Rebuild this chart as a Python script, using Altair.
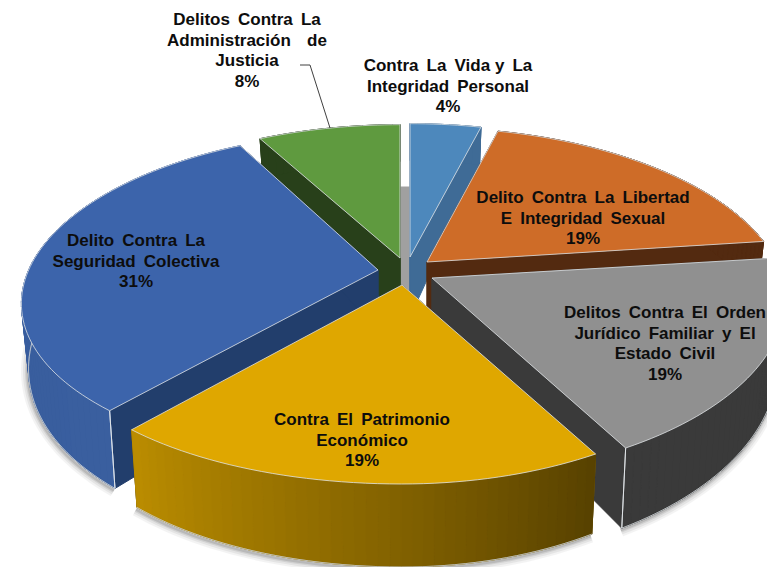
import math
import altair as alt

# ---- chart values (clockwise from 12 o'clock) ----
G = " \u2009"  # wider word gap of the original labels
names = [
    f"Contra{G}La{G}Vida y{G}La\nIntegridad{G}Personal",
    f"Delito{G}Contra{G}La{G}Libertad\nE{G}Integridad{G}Sexual",
    f"Delitos{G}Contra{G}El{G}Orden\nJurídico{G}Familiar{G}y{G}El\nEstado{G}Civil",
    f"Contra{G}El{G}Patrimonio\nEconómico",
    f"Delito{G}Contra{G}La\nSeguridad{G}Colectiva",
    f"Delitos{G}Contra{G}La\nAdministración{G}{G}de\nJusticia",
]
shares = [4, 19, 19, 19, 31, 8]
top_colors = ["#4d88bc", "#ce6c28", "#909090", "#dfa700", "#3c64ab", "#5f9a3f"]
radial_colors = ["#3f6b96", "#532a10", "#3a3a3a", "#3a3a3a", "#223e6c", "#28401a"]
rim_start_colors = ["#3f6b96", "#532a10", "#3a3a3a", "#574100", "#3a5f9f", "#28401a"]
rim_end_colors = ["#3f6b96", "#532a10", "#3a3a3a", "#bb8d00", "#355a9b", "#28401a"]

# ---- layout of the tilted, exploded pie, in picture pixels ----
apexes = [(410, 257), (427, 262), (432, 278), (402, 285), (378, 270), (400, 258)]
rim_shift = [(0, 0), (0, -1), (0, 0), (0, -1), (2, -5), (0, 0)]
label_xy = [(448, 66), (583, 198), (665, 313), (362, 420), (136, 241), (247, 20)]
draw_order = [0, 5, 1, 4, 2, 3]
SX, SY, KX, KY, SKEW = 349, 160, 0.23, 0.20, -32
back_band = [(400, 187), (410, 187), (410, 290), (400, 290)]
leader = [(300, 65), (310, 65), (330, 128)]
EDGE = "#dfe3e6"


def wall(y):
    return 60 + 23 * y


def top_pt(i, r, deg):
    apex = apexes[i]
    t = math.radians(deg)
    x, y = r * math.sin(t), -r * math.cos(t)
    wx = 1 - KX * y
    wy = 1 - KY * y
    return (apex[0] + r * rim_shift[i][0] + (SX * x + SKEW * max(y, 0) * max(x, 0)) / wx,
            apex[1] + r * rim_shift[i][1] + SY * y / wy)


def low_pt(i, r, deg):
    apex = apexes[i]
    px, py = top_pt(i, r, deg)
    y = -r * math.cos(math.radians(deg))
    return (apex[0] + (px - apex[0]) * 0.98, py + wall(y))


def mix(a, b, t):
    ca = [int(a[i:i + 2], 16) for i in (1, 3, 5)]
    cb = [int(b[i:i + 2], 16) for i in (1, 3, 5)]
    return "#%02x%02x%02x" % tuple(round(u + (v - u) * t) for u, v in zip(ca, cb))


def poly(points, fill, stroke=None, sw=1.0):
    ring = [list(p) for p in points] + [list(points[0])]
    return {
        "type": "Feature",
        "geometry": {"type": "Polygon", "coordinates": [ring]},
        "properties": {"fill": fill, "stroke": stroke or fill, "sw": sw},
    }


def line(points, stroke, sw, op=1.0):
    return {
        "type": "Feature",
        "geometry": {"type": "LineString", "coordinates": [list(p) for p in points]},
        "properties": {"stroke": stroke, "sw": sw, "op": op},
    }


starts, acc = [], 0
for s in shares:
    starts.append(acc * 3.6)
    acc += s

pieces = [poly(back_band, "#a0a0a0")]
shadows = []
for i in draw_order:
    a0, a1 = starts[i], starts[i] + shares[i] * 3.6
    n = max(6, int(shares[i] * 2.4))
    degs = [a0 + (a1 - a0) * j / n for j in range(n + 1)]
    top_rim = [top_pt(i, 1, d) for d in degs]
    low_rim = [low_pt(i, 1, d) for d in degs]
    low_apex = low_pt(i, 0, 0)
    if 2 <= i <= 4:
        for w_, o_ in ((13, 0.05), (9, 0.07), (5, 0.10), (2.5, 0.14)):
            shadows.append(line([(x - 1, y + 2) for x, y in low_rim], "#303030", w_, o_))
    for d in (a0, a1):
        pieces.append(poly([top_pt(i, 0, 0), top_pt(i, 1, d), low_pt(i, 1, d), low_apex],
                           radial_colors[i]))
    pieces.append(poly(top_rim + low_rim[::-1], mix(rim_start_colors[i], rim_end_colors[i], 0.5)))
    for j in range(n):
        c = mix(rim_start_colors[i], rim_end_colors[i], (j + 0.5) / n)
        pieces.append(poly([top_rim[j], top_rim[j + 1], low_rim[j + 1], low_rim[j]], c))
    if i in (2, 3, 4):
        pieces.append(poly(low_rim + low_rim[-2::-1], "none", "#c9ced2", 0.6))
        for d in (a0, a1):
            if (i == 2 and d == a1) or (i == 4 and d == a0):
                e = [top_pt(i, 1, d), low_pt(i, 1, d)]
                pieces.append(poly(e + e[-2::-1], "none", EDGE, 0.9))
    face = [top_pt(i, 0, 0)] + top_rim
    pieces.append(poly(face, top_colors[i], EDGE, 0.8))

rows = [{"lon": p[0], "lat": p[1], "text": f"{n_}\n{s}%"}
        for n_, s, p in zip(names, shares, label_xy)]

proj = alt.Projection(type="identity", scale=1, translate=[-8, -8])

shadow_layer = alt.Chart(alt.Data(values=shadows)).mark_geoshape(filled=False, clip=True).encode(
    stroke=alt.Stroke("properties.stroke:N", scale=None),
    strokeWidth=alt.StrokeWidth("properties.sw:Q", scale=None),
    opacity=alt.Opacity("properties.op:Q", scale=None),
).project(**proj.to_dict())

piece_layer = alt.Chart(alt.Data(values=pieces)).mark_geoshape(clip=True).encode(
    fill=alt.Fill("properties.fill:N", scale=None),
    stroke=alt.Stroke("properties.stroke:N", scale=None),
    strokeWidth=alt.StrokeWidth("properties.sw:Q", scale=None),
).project(**proj.to_dict())

leader_layer = alt.Chart(alt.Data(values=[line(leader, "#404040", 1.0)])).mark_geoshape(
    filled=False, clip=True
).encode(
    stroke=alt.Stroke("properties.stroke:N", scale=None),
    strokeWidth=alt.StrokeWidth("properties.sw:Q", scale=None),
).project(**proj.to_dict())

text_layer = alt.Chart(alt.Data(values=rows)).mark_text(
    font="Liberation Sans", fontSize=17, fontWeight="bold", color="#0d0d0d",
    align="center", baseline="middle", lineBreak="\n", lineHeight=20.5,
).encode(
    longitude="lon:Q", latitude="lat:Q", text="text:N"
).project(**proj.to_dict())

chart = alt.layer(shadow_layer, piece_layer, leader_layer, text_layer).properties(
    width=759, height=559, padding=0,
    autosize=alt.AutoSizeParams(type="none"),
).configure_view(stroke=None)

chart.save("out.html", embed_options={"renderer": "svg", "actions": False})
